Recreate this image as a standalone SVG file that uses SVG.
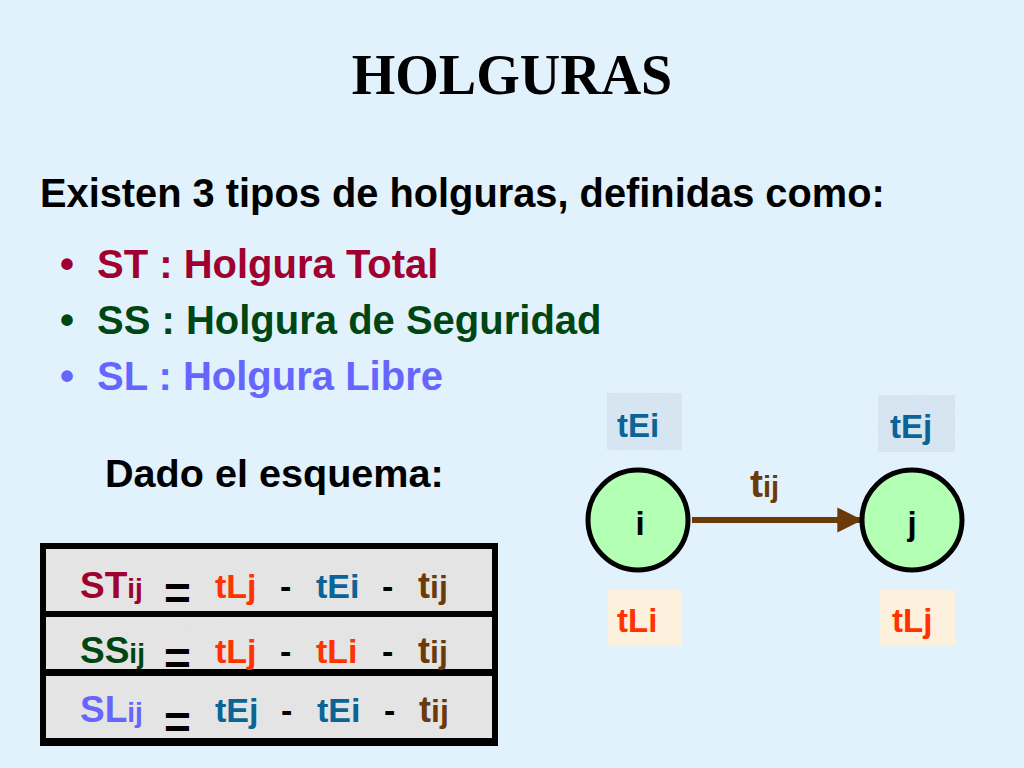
<svg xmlns="http://www.w3.org/2000/svg" width="1024" height="768" viewBox="0 0 1024 768">
<style>
.s{font-family:"Liberation Sans",Arial,sans-serif;font-weight:bold}
.st{fill:#A00030}.ss{fill:#004612}.sl{fill:#6666FF}
.tl{fill:#FF3300}.te{fill:#0A6496}.tij{fill:#6B3A0A}.k{fill:#000}
</style>
<defs>
<filter id="noise" x="0" y="0" width="100%" height="100%">
<feTurbulence type="fractalNoise" baseFrequency="0.9" numOctaves="2" seed="3" result="n"/>
<feColorMatrix in="n" type="matrix" values="0 0 0 0 0.6  0 0 0 0 0.6  0 0 0 0 0.6  0 0 0 0.3 0" result="g"/>
<feComposite in="g" in2="SourceGraphic" operator="in" result="gc"/>
<feMerge><feMergeNode in="SourceGraphic"/><feMergeNode in="gc"/></feMerge>
</filter>
<marker id="ah" viewBox="0 0 10 10" refX="9" refY="5" markerWidth="4.2" markerHeight="4.2" orient="auto" markerUnits="strokeWidth">
<path d="M0,0 L10,5 L0,10 z" fill="#6B3A0A"/>
</marker>
</defs>
<rect width="1024" height="768" fill="#E1F2FD"/>
<text x="512" y="94" text-anchor="middle" font-family="'Liberation Serif','Times New Roman',serif" font-weight="bold" font-size="56" fill="#000">HOLGURAS</text>
<text class="s" x="40" y="207" font-size="39.8" fill="#000">Existen 3 tipos de holguras, definidas como:</text>
<g class="s" font-size="40">
<text x="60" y="278" class="st">•</text><text x="97" y="278" class="st">ST : Holgura Total</text>
<text x="60" y="334" class="ss">•</text><text x="97" y="334" class="ss">SS : Holgura de Seguridad</text>
<text x="60" y="390" class="sl">•</text><text x="97" y="390" class="sl">SL : Holgura Libre</text>
</g>
<text class="s" x="105" y="487" font-size="39.6" fill="#000">Dado el esquema:</text>
<g id="table">
<rect x="40" y="543" width="458" height="203" fill="#000"/>
<rect x="46" y="549" width="446" height="62" fill="#E8E8E8" filter="url(#noise)"/>
<rect x="46" y="617" width="446" height="52" fill="#E8E8E8" filter="url(#noise)"/>
<rect x="46" y="676" width="446" height="62" fill="#E8E8E8" filter="url(#noise)"/>
<g class="s">
<text x="80" y="598" font-size="37" class="st">ST<tspan font-size="28">ij</tspan></text>
<text x="164" y="609" font-size="46" class="k">=</text>
<text x="215" y="598" font-size="34" class="tl">tLj</text>
<text x="280" y="598" font-size="34" class="k">-</text>
<text x="316" y="598" font-size="34" class="te">tEi</text>
<text x="382" y="598" font-size="34" class="k">-</text>
<text x="418" y="598" font-size="36" class="tij">t<tspan font-size="32">ij</tspan></text>

<text x="80" y="663" font-size="37" class="ss">SS<tspan font-size="28">ij</tspan></text>
<text x="164" y="674" font-size="46" class="k">=</text>
<text x="215" y="663" font-size="34" class="tl">tLj</text>
<text x="280" y="663" font-size="34" class="k">-</text>
<text x="316" y="663" font-size="34" class="tl">tLi</text>
<text x="382" y="663" font-size="34" class="k">-</text>
<text x="418" y="663" font-size="36" class="tij">t<tspan font-size="32">ij</tspan></text>

<text x="80" y="722" font-size="37" class="sl">SL<tspan font-size="28">ij</tspan></text>
<text x="164" y="738" font-size="46" class="k">=</text>
<text x="215" y="722" font-size="34" class="te">tEj</text>
<text x="281" y="722" font-size="34" class="k">-</text>
<text x="317" y="722" font-size="34" class="te">tEi</text>
<text x="384" y="722" font-size="34" class="k">-</text>
<text x="419" y="722" font-size="36" class="tij">t<tspan font-size="32">ij</tspan></text>
</g>
</g>
<g id="connectors">
<line x1="692" y1="520" x2="860" y2="520" stroke="#6B3A0A" stroke-width="6" marker-end="url(#ah)"/>
<text class="s tij" x="750" y="497" font-size="39">t<tspan font-size="29">ij</tspan></text>
</g>
<g id="node-i">
<circle cx="638" cy="520" r="50" fill="#B3FFB3" stroke="#000" stroke-width="5"/>
<text class="s k" x="640" y="535" font-size="33" text-anchor="middle">i</text>
</g>
<g id="node-j">
<circle cx="912" cy="520" r="50" fill="#B3FFB3" stroke="#000" stroke-width="5"/>
<text class="s k" x="912" y="535" font-size="33" text-anchor="middle">j</text>
</g>
<g id="label-tEi">
<rect x="607" y="393" width="75" height="57" fill="#D8E9F7" filter="url(#noise)"/>
<text class="s te" x="617" y="437" font-size="33">tEi</text>
</g>
<g id="label-tEj">
<rect x="878" y="395" width="77" height="57" fill="#D8E9F7" filter="url(#noise)"/>
<text class="s te" x="890" y="438" font-size="33">tEj</text>
</g>
<g id="label-tLi">
<rect x="608" y="590" width="74" height="55" fill="#FDF0DC"/>
<text class="s tl" x="617" y="632" font-size="33">tLi</text>
</g>
<g id="label-tLj">
<rect x="880" y="590" width="75" height="55" fill="#FDF0DC"/>
<text class="s tl" x="892" y="632" font-size="33">tLj</text>
</g>
</svg>
